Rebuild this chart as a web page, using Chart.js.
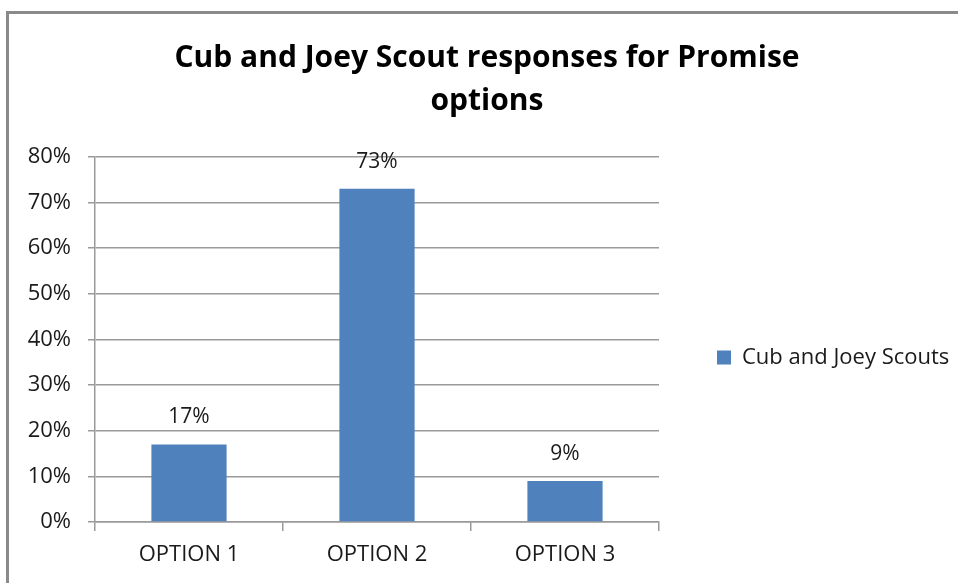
<!DOCTYPE html>
<html>
<head>
<meta charset="utf-8">
<script src="https://cdn.jsdelivr.net/npm/chart.js@4.4.0/dist/chart.umd.min.js"></script>
<style>
  html, body { margin: 0; padding: 0; background: #fff; }
  #wrap { position: relative; width: 958px; height: 583px; overflow: hidden; }
  #frame { position: absolute; left: 6px; top: 11px; width: 1000px; height: 1000px;
           border-left: 3px solid #8a8a8a; border-top: 3px solid #8a8a8a; box-sizing: border-box; pointer-events: none; }
  canvas { position: absolute; left: 0; top: 0; }
</style>
</head>
<body>
<div id="wrap">
  <canvas id="c" width="958" height="583"></canvas>
  <div id="frame"></div>
</div>
<script>
const categories = ['OPTION 1', 'OPTION 2', 'OPTION 3'];
const seriesName = 'Cub and Joey Scouts';
const seriesValues = [17, 73, 9];
const titleLines = ['Cub and Joey Scout responses for Promise', 'options'];
const yTicks = [0, 10, 20, 30, 40, 50, 60, 70, 80];

const FONT = '"Open Sans", Lato, sans-serif';
const BAR = '#4f81bd';
const GRID = '#9a9a9a';
const TEXT = '#1a1a1a';

const LEGEND_FONT = 22;
const LEGEND_PAD = 58;
const LEGEND_BOX = 14;
const LEGEND_WIDTH = 299;

// Work out how much right padding keeps the legend column at a fixed width
const probe = document.createElement('canvas').getContext('2d');
probe.font = LEGEND_FONT + 'px ' + FONT;
const legendNatural = LEGEND_PAD + LEGEND_BOX + LEGEND_FONT / 2 + probe.measureText(seriesName).width + 10;
const rightPad = Math.max(0, LEGEND_WIDTH - legendNatural);

// Value labels above each bar
const valueLabels = {
  id: 'valueLabels',
  afterDatasetsDraw(chart) {
    const ctx = chart.ctx;
    const meta = chart.getDatasetMeta(0);
    ctx.save();
    ctx.font = '21px ' + FONT;
    ctx.fillStyle = TEXT;
    ctx.textAlign = 'center';
    ctx.textBaseline = 'middle';
    meta.data.forEach((bar, i) => {
      ctx.fillText(seriesValues[i] + '%', bar.x, bar.y - 27);
    });
    ctx.restore();
  }
};

// Nudge the legend entry down within its column
const legendShift = {
  id: 'legendShift',
  afterLayout(chart) {
    const lg = chart.legend;
    if (lg) { lg.top += 66; lg.bottom += 66; }
  }
};

new Chart(document.getElementById('c'), {
  type: 'bar',
  data: {
    labels: categories,
    datasets: [{
      label: seriesName,
      data: seriesValues,
      backgroundColor: BAR,
      borderWidth: 0,
      categoryPercentage: 1,
      barPercentage: 0.4
    }]
  },
  options: {
    responsive: false,
    animation: false,
    devicePixelRatio: 1,
    layout: { padding: { left: 16, right: rightPad, top: 0, bottom: 0 } },
    plugins: {
      tooltip: { enabled: false },
      title: {
        display: true,
        text: titleLines,
        color: '#000',
        font: { family: FONT, size: 30, weight: 'bold', lineHeight: 1.43 },
        padding: { top: 37, bottom: 34 }
      },
      legend: {
        position: 'right',
        maxWidth: LEGEND_WIDTH,
        labels: {
          color: TEXT,
          font: { family: FONT, size: LEGEND_FONT },
          boxWidth: LEGEND_BOX,
          boxHeight: LEGEND_BOX,
          padding: LEGEND_PAD
        }
      }
    },
    scales: {
      x: {
        grid: { drawOnChartArea: false, drawTicks: true, tickLength: 9, color: GRID, lineWidth: 1.5 },
        border: { color: GRID, width: 1.5 },
        ticks: { color: TEXT, font: { family: FONT, size: 22 }, padding: 11 },
        afterFit(scale) { scale.height = 61; }
      },
      y: {
        min: 0,
        max: 80,
        afterBuildTicks(scale) { scale.ticks = yTicks.map(v => ({ value: v })); },
        grid: { color: GRID, lineWidth: 1.5, tickLength: 7 },
        border: { color: GRID, width: 1.5 },
        ticks: {
          color: TEXT,
          font: { family: FONT, size: 22 },
          padding: 17,
          callback: v => v + '%'
        },
        afterFit(scale) { scale.width = 79; }
      }
    }
  },
  plugins: [valueLabels, legendShift]
});
</script>
</body>
</html>
